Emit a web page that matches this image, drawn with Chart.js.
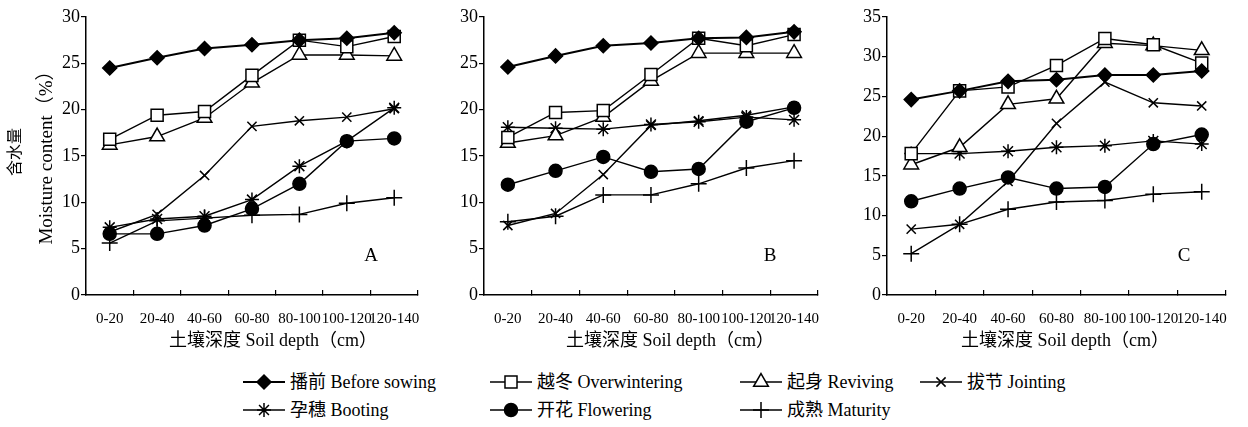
<!DOCTYPE html>
<html>
<head>
<meta charset="utf-8">
<script src="https://cdn.jsdelivr.net/npm/chart.js@4.4.1/dist/chart.umd.min.js"></script>
<style>
    body { margin: 0; background: #fff; }
    #wrap {
        position: relative; width: 1248px; height: 427px; overflow: hidden; background: #fff;
        font-family: "Liberation Serif", "Noto Sans CJK SC", serif; color: #000;
    }
    #wrap canvas { position: absolute; top: 0; }
    .c { position: absolute; transform: translate(-50%, -50%); white-space: nowrap; line-height: 1; }
    .rot { transform: translate(-50%, -50%) rotate(-90deg); }
    .lg { position: absolute; height: 24px; }
    .lg canvas { position: absolute; left: 0; top: 0; }
    .lg span { position: absolute; left: 47px; top: 12px; transform: translateY(-50%); white-space: nowrap; font-size: 18px; line-height: 1; }
</style>
</head>
<body>
<div id="wrap">
    <canvas id="chartA" width="440" height="360" style="left:0px"></canvas>
    <canvas id="chartB" width="440" height="360" style="left:400px"></canvas>
    <canvas id="chartC" width="448" height="360" style="left:800px"></canvas>

    <div class="c rot" style="left:15px;top:152px;font-size:16px">含水量</div>
    <div class="c rot" style="left:45px;top:153px;font-size:19px">Moisture content（%）</div>

    <div class="c" style="left:273px;top:340px;font-size:18px">土壤深度 Soil depth（cm）</div>
    <div class="c" style="left:670px;top:340px;font-size:18px">土壤深度 Soil depth（cm）</div>
    <div class="c" style="left:1065px;top:340px;font-size:18px">土壤深度 Soil depth（cm）</div>

    <div class="c" style="left:371px;top:254px;font-size:19px">A</div>
    <div class="c" style="left:770px;top:254px;font-size:19px">B</div>
    <div class="c" style="left:1184px;top:254px;font-size:19px">C</div>

    <div id="legend"></div>
</div>
<script>
const depthLabels = ["0-20", "20-40", "40-60", "60-80", "80-100", "100-120", "120-140"];

const seriesNames = ["播前 Before sowing", "越冬 Overwintering", "起身 Reviving", "拔节 Jointing",
    "孕穗 Booting", "开花 Flowering", "成熟 Maturity"];

// A
const beforeSowingA = [24.5, 25.6, 26.6, 27.0, 27.5, 27.7, 28.3];
const overwinteringA = [16.8, 19.4, 19.8, 23.7, 27.5, 26.8, 27.9];
const revivingA = [16.2, 17.1, 19.1, 22.9, 25.9, 25.9, 25.8];
const jointingA = [6.8, 8.7, 12.9, 18.2, 18.8, 19.2, 20.1];
const bootingA = [7.3, 8.2, 8.5, 10.3, 13.9, 16.6, 20.2];
const floweringA = [6.6, 6.6, 7.5, 9.3, 12.0, 16.6, 16.9];
const maturityA = [5.6, 8.0, 8.3, 8.6, 8.7, 9.9, 10.5];

// B
const beforeSowingB = [24.6, 25.8, 26.9, 27.2, 27.7, 27.8, 28.4];
const overwinteringB = [17.0, 19.7, 19.9, 23.8, 27.7, 26.9, 28.1];
const revivingB = [16.4, 17.2, 19.2, 23.1, 26.1, 26.1, 26.1];
const jointingB = [7.5, 8.8, 13.0, 18.3, 18.8, 19.4, 20.3];
const bootingB = [18.1, 18.0, 17.9, 18.4, 18.7, 19.2, 18.9];
const floweringB = [11.9, 13.4, 14.9, 13.3, 13.6, 18.7, 20.2];
const maturityB = [7.9, 8.5, 10.8, 10.8, 12.0, 13.7, 14.5];

// C
const beforeSowingC = [24.6, 25.7, 26.9, 27.1, 27.7, 27.7, 28.2];
const overwinteringC = [17.8, 25.7, 26.2, 28.9, 32.3, 31.5, 29.2];
const revivingC = [16.4, 18.6, 24.0, 24.7, 31.7, 31.4, 30.8];
const jointingC = [8.3, 8.9, 14.3, 21.6, 26.8, 24.2, 23.8];
const bootingC = [17.8, 17.8, 18.1, 18.6, 18.8, 19.4, 19.0];
const floweringC = [11.8, 13.4, 14.8, 13.4, 13.6, 19.0, 20.2];
const maturityC = [5.2, 8.9, 10.8, 11.7, 11.9, 12.7, 13.0];

const yMaxA = 30, yMaxB = 30, yMaxC = 35;

// marker look per series
const pointStyles = ["rectRot", "rect", "triangle", "crossRot", "star", "circle", "cross"];
const pointRadii = [7, 8.5, 8.5, 6.5, 7, 6.5, 8];
const pointFills = ["#000", "#fff", "#fff", "#000", "#000", "#000", "#000"];

const fontFamily = '"Liberation Serif", "Noto Sans CJK SC", serif';
Chart.defaults.font.family = fontFamily;
Chart.defaults.color = "#000";

function makePanel(id, series, yMax, axisLeft, padRight) {
    var datasets = series.map(function (values, i) {
        return {
            label: seriesNames[i],
            data: values,
            borderColor: "#000",
            borderWidth: i === 0 ? 2 : 1.4,
            pointStyle: pointStyles[i],
            pointRadius: pointRadii[i],
            pointHoverRadius: pointRadii[i],
            pointBackgroundColor: pointFills[i],
            pointBorderColor: "#000",
            pointBorderWidth: 1.5,
            fill: false,
            tension: 0,
        };
    });

    return new Chart(document.getElementById(id), {
        type: "line",
        data: { labels: depthLabels, datasets: datasets },
        options: {
            responsive: false,
            animation: false,
            events: [],
            layout: { padding: { left: 0, top: 17, right: padRight, bottom: 0 } },
            plugins: { legend: { display: false }, tooltip: { enabled: false } },
            scales: {
                x: {
                    offset: true,
                    grid: { drawOnChartArea: false, offset: true, color: "#000", tickLength: -5, lineWidth: 1.2 },
                    border: { display: true, color: "#000", width: 1.5 },
                    ticks: { font: { size: 15 }, padding: 20, maxRotation: 0, minRotation: 0, autoSkip: false },
                    afterFit: function (scale) { scale.height = 65; },
                },
                y: {
                    min: 0,
                    max: yMax,
                    grid: { drawOnChartArea: false, color: "#000", tickLength: 5, lineWidth: 1.2 },
                    border: { display: true, color: "#000", width: 1.5 },
                    ticks: { stepSize: 5, font: { size: 18 }, padding: 1 },
                    afterFit: function (scale) { scale.width = axisLeft; },
                },
            },
        },
    });
}

makePanel("chartA", [beforeSowingA, overwinteringA, revivingA, jointingA, bootingA, floweringA, maturityA], yMaxA, 86, 11);
makePanel("chartB", [beforeSowingB, overwinteringB, revivingB, jointingB, bootingB, floweringB, maturityB], yMaxB, 84, 13);
makePanel("chartC", [beforeSowingC, overwinteringC, revivingC, jointingC, bootingC, floweringC, maturityC], yMaxC, 87, 18);

// legend, two rows under the panels
var legendSpots = [[243, 382], [490, 382], [740, 382], [920, 382], [243, 410], [490, 410], [740, 410]];
var legend = document.getElementById("legend");
seriesNames.forEach(function (name, i) {
    var item = document.createElement("div");
    item.className = "lg";
    item.style.left = legendSpots[i][0] + "px";
    item.style.top = (legendSpots[i][1] - 12) + "px";

    var cv = document.createElement("canvas");
    cv.width = 44;
    cv.height = 24;
    var ctx = cv.getContext("2d");
    ctx.strokeStyle = "#000";
    ctx.lineWidth = i === 0 ? 2 : 1.4;
    ctx.beginPath();
    ctx.moveTo(0, 12);
    ctx.lineTo(42, 12);
    ctx.stroke();
    if (Chart.helpers && Chart.helpers.drawPoint) {
        ctx.fillStyle = pointFills[i];
        ctx.lineWidth = 1.5;
        Chart.helpers.drawPoint(ctx, { pointStyle: pointStyles[i], rotation: 0, radius: pointRadii[i], borderWidth: 1.5 }, 21, 12);
    }

    var txt = document.createElement("span");
    txt.textContent = name;
    item.appendChild(cv);
    item.appendChild(txt);
    legend.appendChild(item);
});
</script>
</body>
</html>
